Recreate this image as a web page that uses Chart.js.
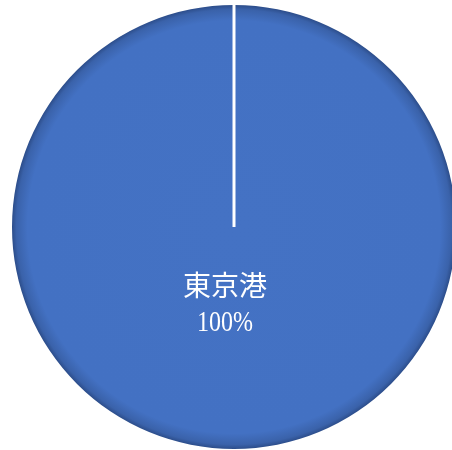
<!DOCTYPE html>
<html lang="ja">
<head>
<meta charset="utf-8" />
<title>東京港</title>
<style>
  html, body { margin: 0; padding: 0; background: #fff; overflow: hidden; }
  #wrap { width: 458px; height: 450px; }
</style>
</head>
<body>
<div id="wrap"><canvas id="pieChart"></canvas></div>

<script src="https://cdn.jsdelivr.net/npm/chart.js@4/dist/chart.umd.min.js"></script>
<script>
let labels = ['東京港']
let values = [100]

// white border line from the centre to where the slice starts + labels
const sliceDecor = {
  id: 'sliceDecor',
  afterDatasetsDraw(chart) {
    const ctx = chart.ctx
    const meta = chart.getDatasetMeta(0)
    const total = values.reduce((a, b) => a + b, 0)
    meta.data.forEach(function (arc, i) {
      const p = arc.getProps(['x', 'y', 'startAngle', 'outerRadius'], true)
      ctx.save()
      ctx.strokeStyle = '#ffffff'
      ctx.lineWidth = 3
      ctx.beginPath()
      ctx.moveTo(p.x, p.y)
      ctx.lineTo(p.x + Math.cos(p.startAngle) * p.outerRadius, p.y + Math.sin(p.startAngle) * p.outerRadius)
      ctx.stroke()

      // label
      const lx = p.x - 9
      const ly = p.y + 58
      ctx.fillStyle = '#ffffff'
      ctx.textAlign = 'center'
      ctx.textBaseline = 'middle'
      ctx.font = '28px "Noto Sans CJK JP"'
      ctx.fillText(labels[i], lx, ly)
      ctx.translate(lx, ly + 38)
      ctx.scale(0.8, 1)
      ctx.font = '30px "Liberation Serif"'
      ctx.fillText(Math.round(values[i] / total * 100) + '%', 0, 0)
      ctx.restore()
    })
  }
}

window.onload = function () {
  var ctx = document.getElementById('pieChart').getContext('2d')

  var config = {
    type: 'pie',
    data: {
      labels: labels,
      datasets: [
        {
          data: values,
          backgroundColor: function (c) {
            const a = c.chart.chartArea
            if (!a) return '#4472C4'
            const cx = (a.left + a.right) / 2
            const cy = (a.top + a.bottom) / 2
            const r = Math.min(a.right - a.left, a.bottom - a.top) / 2
            const g = c.chart.ctx.createRadialGradient(cx, cy, 0, cx, cy, r)
            g.addColorStop(0, '#4472C4')
            g.addColorStop(0.93, '#4371C3')
            g.addColorStop(0.98, '#3A62AA')
            g.addColorStop(1, '#2C4D8A')
            return g
          },
          borderWidth: 0,
          hoverOffset: 0
        }
      ]
    },
    options: {
      responsive: true,
      maintainAspectRatio: false,
      animation: false,
      layout: { padding: { left: 12, right: 2, top: 5, bottom: 1 } },
      plugins: {
        legend: { display: false },
        tooltip: { enabled: false }
      },
      events: []
    },
    plugins: [sliceDecor]
  }

  window.myPie = new Chart(ctx, config)
}
</script>
</body>
</html>
